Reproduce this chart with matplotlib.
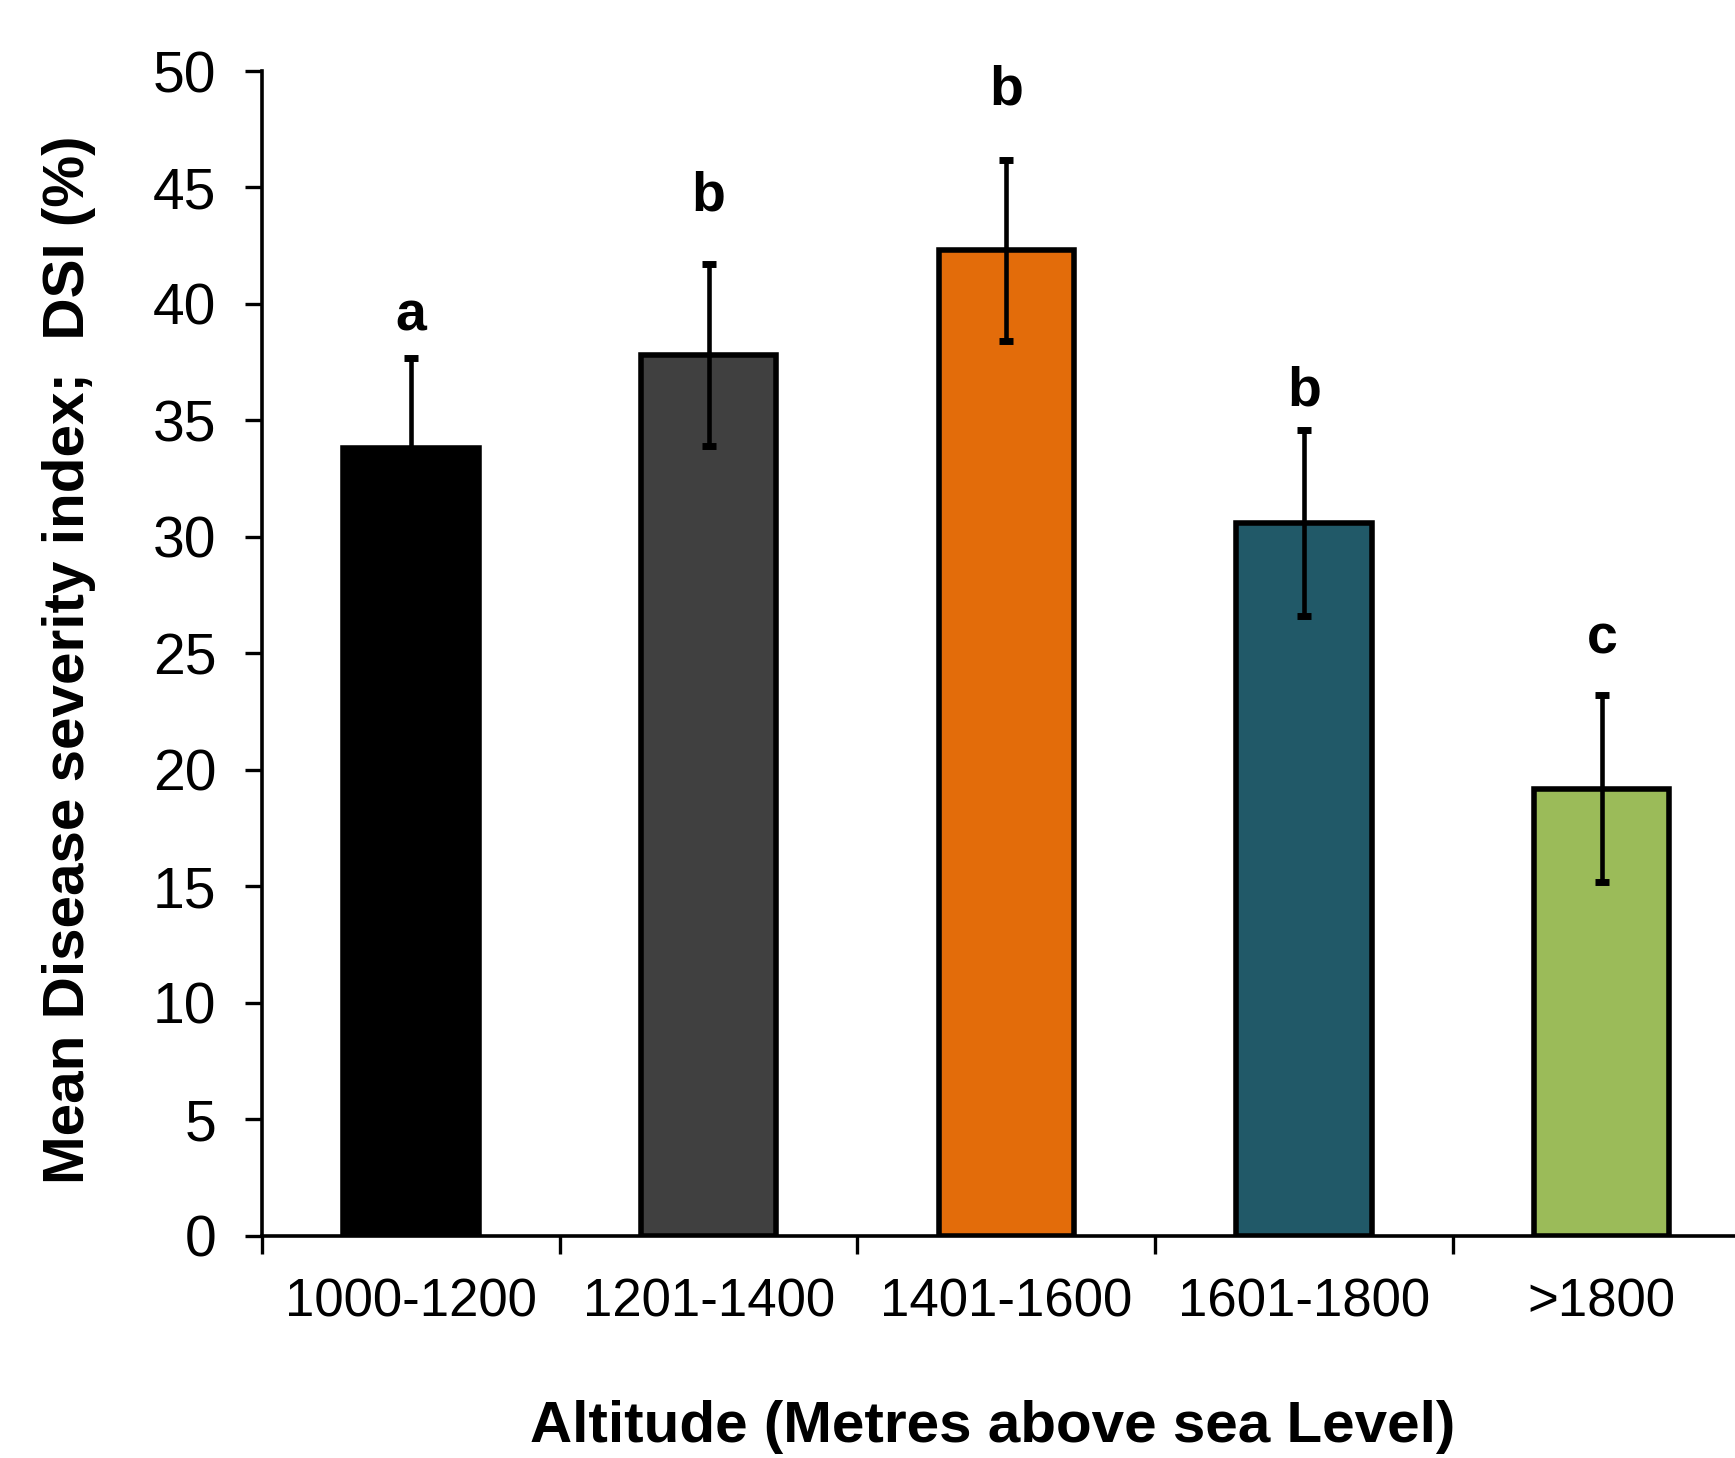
import matplotlib
matplotlib.use("Agg")
import matplotlib.pyplot as plt
import numpy as np

# ---- data ----
categories = ["1000-1200", "1201-1400", "1401-1600", "1601-1800", ">1800"]
mean_dsi = [33.8, 37.8, 42.3, 30.6, 19.2]
err_dsi = [3.9, 3.9, 3.9, 4.0, 4.0]
letters = ["a", "b", "b", "b", "c"]
bar_colors = ["#000000", "#404040", "#E36C0A", "#215968", "#9BBB59"]

plt.rcParams['font.family'] = ['Liberation Sans', 'DejaVu Sans']

fig = plt.figure(figsize=(17.35, 14.58), dpi=100)
ax = fig.add_axes([0.1510, 0.1523, 0.858, 0.799])

x = np.arange(len(categories))
ax.bar(x, mean_dsi, width=0.455, color=bar_colors, edgecolor="black",
       linewidth=4.0, zorder=2)
ax.errorbar(x, mean_dsi, yerr=err_dsi, fmt="none", ecolor="black",
            elinewidth=3.3, capsize=5, capthick=5.0, zorder=3)

letter_gap = [1.15, 2.3, 2.35, 1.05, 1.8]
for xi, m, e, lab, g in zip(x, mean_dsi, err_dsi, letters, letter_gap):
    ax.text(xi, m + e + g, lab, ha="center", va="baseline",
            fontsize=40, fontweight="bold")

ax.set_xlim(-0.5, len(categories) - 0.5)
ax.set_ylim(0, 50)
ax.set_yticks(np.arange(0, 51, 5))

ax.set_xticks(np.arange(-0.5, len(categories), 1.0))
ax.set_xticklabels([])
ax.set_xticks(x, minor=True)
ax.set_xticklabels(categories, minor=True, fontsize=38)
ax.tick_params(axis="x", which="minor", length=0, pad=30)
ax.tick_params(axis="x", which="major", length=13, width=2.4, direction="out")
ax.tick_params(axis="y", which="major", length=12, width=2.4, direction="out",
               labelsize=41, pad=21)

for s in ["top", "right"]:
    ax.spines[s].set_visible(False)
for s in ["left", "bottom"]:
    ax.spines[s].set_linewidth(2.6)

ax.set_xlabel("Altitude (Metres above sea Level)", fontsize=42,
              fontweight="bold", va="center")
ax.xaxis.set_label_coords(0.491, -0.164)
ax.set_ylabel("Mean Disease severity index;  DSI (%)", fontsize=42,
              fontweight="bold", va="center")
ax.yaxis.set_label_coords(-0.1297, 0.495)

fig.savefig("out.png", dpi=100)
